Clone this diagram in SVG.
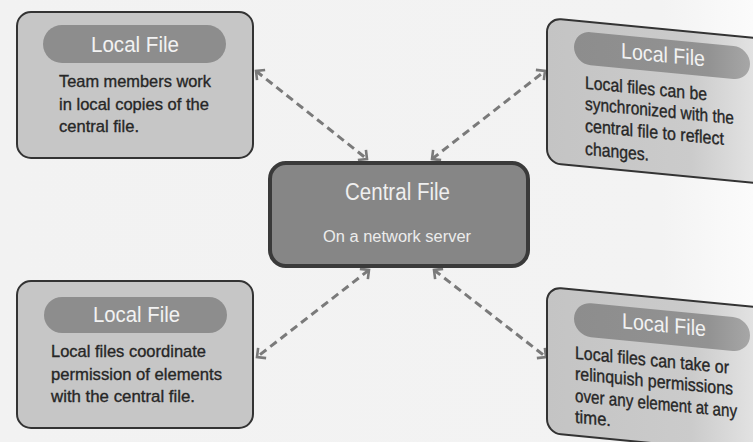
<svg xmlns="http://www.w3.org/2000/svg" width="753" height="442" viewBox="0 0 753 442">
<style>
.box{fill:#c6c6c6;stroke:#333;stroke-width:2}
.rbox{fill:url(#rfill);stroke:#333;stroke-width:2}
.hdr{fill:#8d8d8d}
.rhdr{fill:url(#rhfill)}
.title{font-family:"Liberation Sans Narrow","Liberation Sans",Arial,sans-serif;font-size:22px;fill:#f2f2f2}
.body{font-family:"Liberation Sans Narrow","Liberation Sans",Arial,sans-serif;font-size:17px;fill:#262626;stroke:#262626;stroke-width:0.35}
.rbody{font-family:"Liberation Sans Narrow","Liberation Sans",Arial,sans-serif;font-size:18px;fill:#262626;stroke:#262626;stroke-width:0.35}
.central{fill:#868686;stroke:#3a3a3a;stroke-width:4}
.ctitle{font-family:"Liberation Sans Narrow","Liberation Sans",Arial,sans-serif;font-size:23px;fill:#efefef}
.csub{font-family:"Liberation Sans Narrow","Liberation Sans",Arial,sans-serif;font-size:16px;fill:#ececec}
.conn{fill:none;stroke:#7a7a7a;stroke-width:3;stroke-dasharray:8 5}
</style>
<defs>
<linearGradient id="bgfill" gradientUnits="userSpaceOnUse" x1="0" y1="0" x2="753" y2="0">
<stop offset="0" stop-color="#f2f2f2"/>
<stop offset="0.88" stop-color="#f3f3f3"/>
<stop offset="1" stop-color="#fbfbfb"/>
</linearGradient>
<linearGradient id="rfill" gradientUnits="userSpaceOnUse" x1="547" y1="0" x2="753" y2="0">
<stop offset="0" stop-color="#c4c4c4"/>
<stop offset="0.7" stop-color="#cbcbcb"/>
<stop offset="1" stop-color="#e2e2e2"/>
</linearGradient>
<linearGradient id="rhfill" gradientUnits="userSpaceOnUse" x1="574" y1="0" x2="753" y2="0">
<stop offset="0" stop-color="#8d8d8d"/>
<stop offset="0.75" stop-color="#929292"/>
<stop offset="1" stop-color="#a8a8a8"/>
</linearGradient>
<marker id="ah" viewBox="0 0 12 12" refX="10" refY="6" markerWidth="12" markerHeight="12" markerUnits="userSpaceOnUse" orient="auto-start-reverse" overflow="visible">
<path d="M3.5,-0.5 L10,6 L3.5,12.5" fill="none" stroke="#7a7a7a" stroke-width="2.6" stroke-dasharray="none"/>
</marker>
</defs>
<rect x="0" y="0" width="753" height="442" fill="url(#bgfill)"/>

<g id="connectors">
<line class="conn" x1="256" y1="71" x2="367" y2="159" marker-start="url(#ah)" marker-end="url(#ah)"/>
<line class="conn" x1="432" y1="159" x2="545" y2="71" marker-start="url(#ah)" marker-end="url(#ah)"/>
<line class="conn" x1="369" y1="270" x2="257" y2="357" marker-start="url(#ah)" marker-end="url(#ah)"/>
<line class="conn" x1="434" y1="270" x2="546" y2="357" marker-start="url(#ah)" marker-end="url(#ah)"/>
</g>

<g id="central">
<rect class="central" x="270" y="163" width="258" height="103" rx="16"/>
<text class="ctitle" x="345" y="200" textLength="105" lengthAdjust="spacingAndGlyphs">Central File</text>
<text class="csub" x="323" y="242" textLength="148" lengthAdjust="spacingAndGlyphs">On a network server</text>
</g>

<g id="local-top-left">
<rect class="box" x="17" y="12" width="236" height="146" rx="14"/>
<rect class="hdr" x="43" y="25" width="183" height="38" rx="19"/>
<text class="title" x="91" y="52" textLength="88" lengthAdjust="spacingAndGlyphs">Local File</text>
<text class="body" x="59" y="87" textLength="152" lengthAdjust="spacingAndGlyphs">Team members work</text>
<text class="body" x="59" y="110" textLength="150" lengthAdjust="spacingAndGlyphs">in local copies of the</text>
<text class="body" x="59" y="132" textLength="80" lengthAdjust="spacingAndGlyphs">central file.</text>
</g>

<g id="local-bottom-left">
<rect class="box" x="17" y="281" width="236" height="147" rx="14"/>
<rect class="hdr" x="44" y="297" width="183" height="36" rx="18"/>
<text class="title" x="93" y="322" textLength="87" lengthAdjust="spacingAndGlyphs">Local File</text>
<text class="body" x="51" y="357" textLength="155" lengthAdjust="spacingAndGlyphs">Local files coordinate</text>
<text class="body" x="51" y="380" textLength="171" lengthAdjust="spacingAndGlyphs">permission of elements</text>
<text class="body" x="51" y="402" textLength="144" lengthAdjust="spacingAndGlyphs">with the central file.</text>
</g>

<g id="local-top-right" transform="matrix(1,0.0963,0,1,0,-52.7)">
<rect class="rbox" x="547" y="18" width="245" height="145" rx="14"/>
<rect class="rhdr" x="574" y="28" width="176" height="33" rx="16.5"/>
<text class="title" x="621" y="51" textLength="84" lengthAdjust="spacingAndGlyphs">Local File</text>
<text class="rbody" transform="translate(585,85) scale(0.82,1)" textLength="148.8" lengthAdjust="spacingAndGlyphs">Local files can be</text>
<text class="rbody" transform="translate(585,106) scale(0.82,1)" textLength="181.7" lengthAdjust="spacingAndGlyphs">synchronized with the</text>
<text class="rbody" transform="translate(585,128) scale(0.82,1)" textLength="169.5" lengthAdjust="spacingAndGlyphs">central file to reflect</text>
<text class="rbody" transform="translate(585,151) scale(0.82,1)" textLength="78" lengthAdjust="spacingAndGlyphs">changes.</text>
</g>

<g id="local-bottom-right" transform="matrix(1,0.0963,0,1,0,-52.7)">
<rect class="rbox" x="547" y="287" width="245" height="146" rx="14"/>
<rect class="rhdr" x="574" y="299" width="176" height="34" rx="17"/>
<text class="title" x="622" y="321" textLength="84" lengthAdjust="spacingAndGlyphs">Local File</text>
<text class="rbody" transform="translate(575,356) scale(0.82,1)" textLength="187.8" lengthAdjust="spacingAndGlyphs">Local files can take or</text>
<text class="rbody" transform="translate(575,377) scale(0.82,1)" textLength="192.7" lengthAdjust="spacingAndGlyphs">relinquish permissions</text>
<text class="rbody" transform="translate(575,399) scale(0.82,1)" textLength="197.6" lengthAdjust="spacingAndGlyphs">over any element at any</text>
<text class="rbody" transform="translate(575,420) scale(0.82,1)" textLength="43.9" lengthAdjust="spacingAndGlyphs">time.</text>
</g>
</svg>
